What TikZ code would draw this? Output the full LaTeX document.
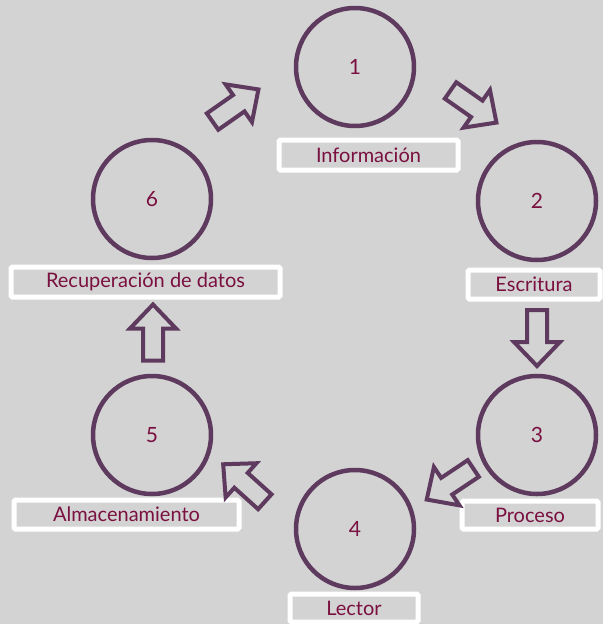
\documentclass[tikz,border=0pt]{standalone}
\usepackage{fontspec}
\setmainfont{Lato}
\definecolor{bgc}{HTML}{D3D3D3}
\definecolor{ringc}{HTML}{5E3A5E}
\definecolor{txtc}{HTML}{7A1040}
\begin{document}
\begin{tikzpicture}[x=1pt,y=-1pt,
  ring/.style={circle,draw=ringc,line width=4.5pt,minimum size=118pt,inner sep=0pt,
    text=txtc,font=\fontsize{21}{24}\selectfont},
  labelbox/.style={draw=white,line width=5pt,rounded corners=1.5pt,inner sep=0pt,
    text=txtc,font=\fontsize{20}{24}\selectfont},
  blockarrow/.pic={\draw[ringc,line width=4pt,line join=miter]
    (-28,-10)--(4,-10)--(4,-23)--(28,0)--(4,23)--(4,10)--(-28,10)--cycle;}]
\fill[bgc] (0,0) rectangle (603,624);
\useasboundingbox (0,0) rectangle (603,624);
% circles
\node[ring] (c1) at (355,67) {1};
\node[ring] (c2) at (537,201) {2};
\node[ring] (c3) at (537,435) {3};
\node[ring] (c4) at (355,529) {4};
\node[ring] (c5) at (152,435) {5};
\node[ring] (c6) at (152,199) {6};
% labels
\node[labelbox,minimum width=179pt,minimum height=30pt] (l1) at (368.5,155) {Información};
\node[labelbox,minimum width=132pt,minimum height=29pt] (l2) at (534,284.5) {Escritura};
\node[labelbox,minimum width=136pt,minimum height=28pt] (l3) at (530,515) {Proceso};
\node[labelbox,minimum width=128pt,minimum height=28pt] (l4) at (354,608) {Lector};
\node[labelbox,minimum width=225pt,minimum height=29pt] (l5) at (126.5,514.5) {Almacenamiento};
\node[labelbox,minimum width=269pt,minimum height=30pt] (l6) at (145.5,282) {Recuperación de datos};
% block arrows
\pic[rotate=35] at (235.5,105.5) {blockarrow};
\pic[rotate=-35] at (473.5,106.5) {blockarrow};
\pic[rotate=-90] at (537,338) {blockarrow};
\pic[rotate=-146.3] at (450,484) {blockarrow};
\pic[rotate=138] at (244,483) {blockarrow};
\pic[rotate=90] at (153,332.5) {blockarrow};
\end{tikzpicture}
\end{document}
